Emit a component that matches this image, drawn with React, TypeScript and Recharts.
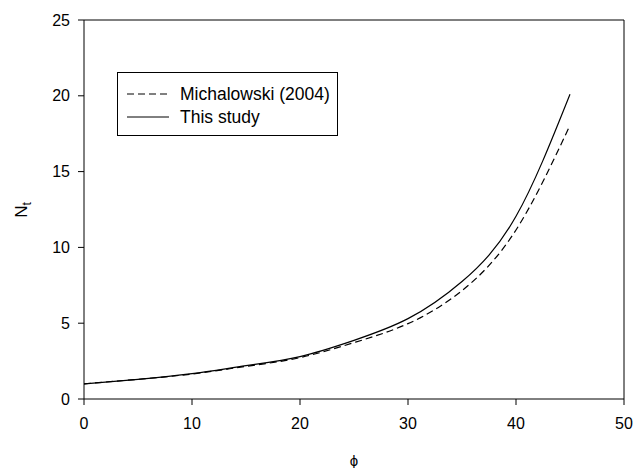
import React from "react";
import {
    LineChart,
    Line,
    XAxis,
    YAxis,
    Legend,
    ReferenceLine,
} from "recharts";

const phi = [0, 5, 10, 15, 20, 25, 30, 35, 40, 45];
const michalowski = [1.0, 1.3, 1.65, 2.15, 2.73, 3.72, 4.97, 7.15, 11.15, 18.05];
const thisStudy = [1.0, 1.3, 1.67, 2.2, 2.8, 3.87, 5.3, 7.75, 12.05, 20.1];

const xTicks = [0, 10, 20, 30, 40, 50];
const yTicks = [0, 5, 10, 15, 20, 25];

const seriesNames = ["Michalowski (2004)", "This study"];

const data = phi.map((p, i) => ({
    phi: p,
    mich: michalowski[i],
    study: thisStudy[i],
}));

const font = "Arial, 'Liberation Sans', sans-serif";

const LegendBox = () => (
    <div
        style={{
            width: 219,
            height: 62,
            border: "1px solid #000",
            background: "#fff",
            fontFamily: font,
            fontSize: 17.5,
            color: "#000",
            position: "relative",
        }}
    >
        {seriesNames.map((name, i) => (
            <div
                key={name}
                style={{
                    position: "absolute",
                    left: 9,
                    top: 10 + i * 23,
                    display: "flex",
                    alignItems: "center",
                    height: 22,
                    whiteSpace: "nowrap",
                }}
            >
                <svg width={42} height={4} style={{ marginRight: 11 }}>
                    <line
                        x1={0}
                        y1={2}
                        x2={42}
                        y2={2}
                        stroke="#000"
                        strokeWidth={1}
                        strokeDasharray={i === 0 ? "7 4" : undefined}
                    />
                </svg>
                <span>{name}</span>
            </div>
        ))}
    </div>
);

const YLabel = (props: any) => {
    const cx = 27;
    const cy = 210;
    return (
        <text
            x={cx}
            y={cy}
            transform={`rotate(-90 ${cx} ${cy})`}
            textAnchor="middle"
            fontSize={17}
            fontFamily={font}
            fill="#000"
        >
            N
            <tspan dy={4} fontSize={12}>
                t
            </tspan>
        </text>
    );
};

const XLabel = (props: any) => (
    <text
        x={354}
        y={466}
        textAnchor="middle"
        fontSize={15}
        fontFamily={font}
        fill="#000"
    >
        ϕ
    </text>
);

export default function App() {
    return (
        <div style={{ position: "absolute", left: 0, top: 0, background: "#fff" }}>
            <LineChart
                width={633}
                height={468}
                data={data}
                margin={{ top: 20, right: 9, bottom: 19, left: 24 }}
            >
                <XAxis
                    type="number"
                    dataKey="phi"
                    domain={[0, 50]}
                    ticks={xTicks}
                    height={50}
                    stroke="#000"
                    tickSize={6}
                    tickMargin={13}
                    tick={{ fill: "#000", fontSize: 16, fontFamily: font }}
                    label={<XLabel />}
                />
                <YAxis
                    type="number"
                    domain={[0, 25]}
                    ticks={yTicks}
                    width={60}
                    stroke="#000"
                    tickSize={6}
                    tickMargin={8}
                    tick={{ fill: "#000", fontSize: 16, fontFamily: font }}
                    label={<YLabel />}
                />
                <ReferenceLine y={25} stroke="#000" />
                <ReferenceLine x={50} stroke="#000" />
                <Legend
                    layout="horizontal"
                    verticalAlign="middle"
                    align="center"
                    content={() => <LegendBox />}
                    wrapperStyle={{ position: "absolute", left: 117, top: 72, width: 221 }}
                />
                <Line
                    type="natural"
                    dataKey="mich"
                    name={seriesNames[0]}
                    stroke="#000"
                    strokeWidth={1.2}
                    strokeDasharray="7 4"
                    dot={false}
                    isAnimationActive={false}
                />
                <Line
                    type="natural"
                    dataKey="study"
                    name={seriesNames[1]}
                    stroke="#000"
                    strokeWidth={1.2}
                    dot={false}
                    isAnimationActive={false}
                />
            </LineChart>
        </div>
    );
}
